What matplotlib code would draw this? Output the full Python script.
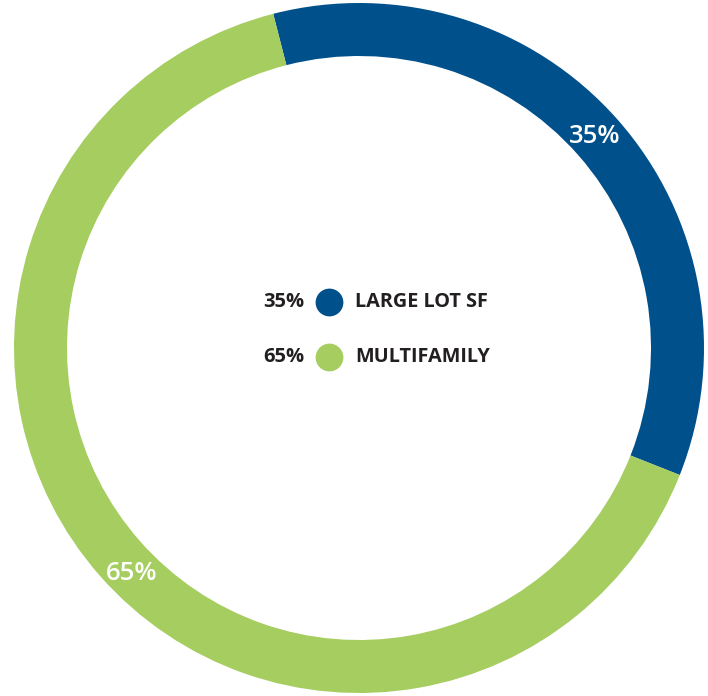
import numpy as np
import matplotlib.pyplot as plt

labels = ["LARGE LOT SF", "MULTIFAMILY"]
shares = [35, 65]
colors = ["#00508c", "#a5cd60"]

W, H = 708, 696
cx, cy = 359, H - 348
R = 345
ring = 53
start_angle = 104.4

fig = plt.figure(figsize=(W / 100, H / 100), dpi=100)
ax = fig.add_axes([0, 0, 1, 1])

ax.pie(shares, colors=colors, center=(cx, cy), radius=R, startangle=start_angle,
       counterclock=False, wedgeprops=dict(width=ring, linewidth=0))

# percentage labels sitting on the ring (nudged a little like the original)
nudge = [1, 3]
start = start_angle
for s, d in zip(shares, nudge):
    mid = np.deg2rad(start - s * 3.6 / 2 + d)
    r = R - ring / 2
    ax.text(cx + r * np.cos(mid), cy + r * np.sin(mid) - 3, f"{s}%",
            color="white", fontsize=18.5, fontfamily="Open Sans",
            fontweight="semibold", ha="center", va="center")
    start -= s * 3.6

# legend in the middle
rows_y = [H - 302, H - 357]
for lab, s, col, y in zip(labels, shares, colors, rows_y):
    ax.text(304, y, f"{s}%", color="#231f20", fontsize=14.5, fontfamily="Open Sans",
            fontweight="bold", ha="right", va="center")
    ax.scatter([329], [y], s=400, color=col, linewidths=0)
    ax.text(355, y, lab, color="#231f20", fontsize=14.3, fontfamily="Open Sans",
            fontweight="bold", ha="left", va="center")

ax.set_xlim(0, W)
ax.set_ylim(0, H)
ax.set_aspect("auto")
ax.axis("off")

fig.savefig("out.png", dpi=100)
